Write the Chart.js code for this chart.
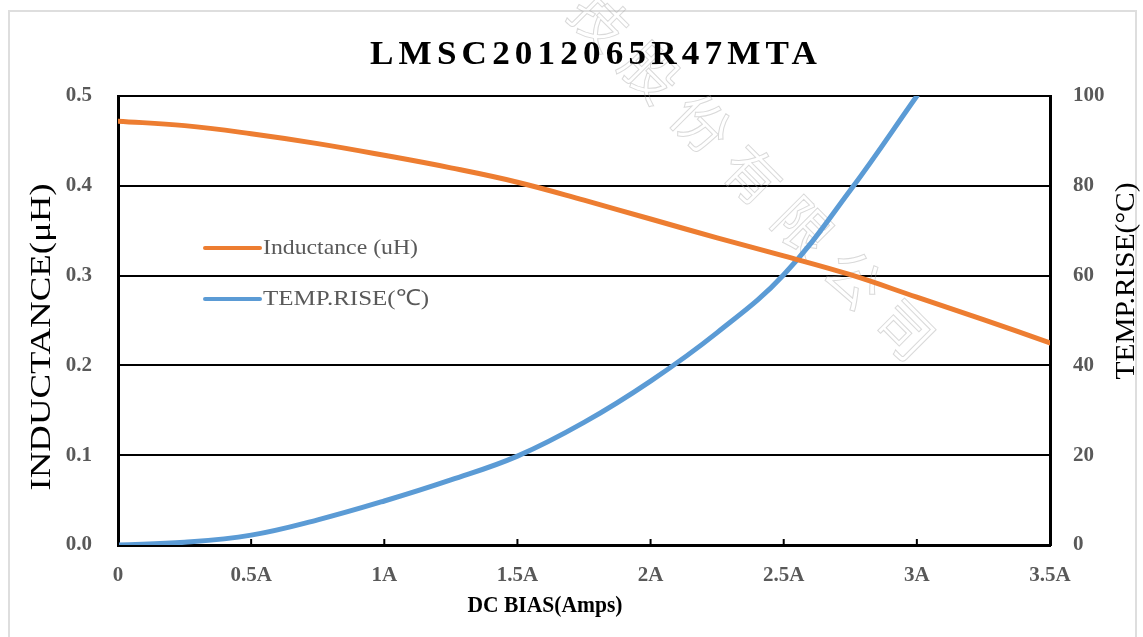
<!DOCTYPE html>
<html>
<head>
<meta charset="utf-8">
<title>LMSC2012065R47MTA</title>
<script src="https://cdn.jsdelivr.net/npm/chart.js@4.4.1/dist/chart.umd.min.js"></script>
<style>
  html, body { margin: 0; padding: 0; background: #fff; }
  #grafico { display: block; }
</style>
</head>
<body>
<canvas id="grafico" width="1143" height="637"></canvas>
<script>
// Datos (corriente DC en A)
const TITULO = 'LMSC2012065R47MTA';
const DC_BIAS = [0, 0.25, 0.5, 0.75, 1, 1.25, 1.5, 1.75, 2, 2.25, 2.5, 2.75, 3, 3.25, 3.5];
const INDUCTANCIA = [0.472, 0.467, 0.458, 0.447, 0.434, 0.420, 0.404, 0.384, 0.363, 0.342, 0.322, 0.301, 0.276, 0.251, 0.225];
const TEMP_RISE = [0, 0.6, 2.2, 5.6, 9.8, 14.5, 19.8, 27.3, 36.5, 47.3, 60.2, 79.0, 100];
const X_TICKS = ['0', '0.5A', '1A', '1.5A', '2A', '2.5A', '3A', '3.5A'];
const SERIES = ['Inductance (uH)', 'TEMP.RISE(\u2103)'];
const MARCA_AGUA = '技股份有限公司';

const NARANJA = '#ED7D31';
const AZUL = '#5B9BD5';
const GRIS = '#595959';
const SERIF = "'Liberation Serif', 'Times New Roman', serif";

function puntos(xs, ys) {
  return ys.map((y, i) => ({ x: xs[i], y }));
}

// Texto ajustado a un ancho dado (el original viene algo estirado)
function textoAjustado(ctx, texto, x, y, ancho, font, angulo, color, espaciado) {
  ctx.save();
  ctx.translate(x, y);
  ctx.rotate(angulo || 0);
  ctx.font = font;
  if (espaciado) ctx.letterSpacing = espaciado;
  const w = ctx.measureText(texto).width;
  ctx.scale(ancho / w, 1);
  ctx.fillStyle = color;
  ctx.textAlign = 'center';
  ctx.textBaseline = 'middle';
  ctx.fillText(texto, 0, 0);
  ctx.restore();
}

const decoracion = {
  id: 'decoracion',
  beforeDraw(chart) {
    const ctx = chart.ctx;
    ctx.save();
    ctx.fillStyle = '#fff';
    ctx.fillRect(0, 0, chart.width, chart.height);
    ctx.strokeStyle = '#dedede';
    ctx.lineWidth = 2;
    ctx.strokeRect(9, 11, 1127, 700);
    ctx.restore();
  },
  beforeDatasetsDraw(chart) {
    // marca de agua en diagonal, muy tenue
    const ctx = chart.ctx;
    ctx.save();
    ctx.font = "56px 'Noto Sans CJK SC'";
    ctx.strokeStyle = 'rgba(160,160,160,0.4)';
    ctx.lineWidth = 1;
    ctx.textAlign = 'center';
    ctx.textBaseline = 'middle';
    const chars = [...MARCA_AGUA];
    const x0 = 600, y0 = 20, x1 = 905, y1 = 330;
    chars.forEach((c, i) => {
      const t = i / (chars.length - 1);
      ctx.save();
      ctx.translate(x0 + (x1 - x0) * t, y0 + (y1 - y0) * t);
      ctx.rotate(Math.PI / 4);
      ctx.strokeText(c, 0, 0);
      ctx.restore();
    });
    ctx.restore();
  },
  afterDraw(chart) {
    const ctx = chart.ctx;
    const area = chart.chartArea;
    const xs = chart.scales.x;

    // marcas cortas hacia adentro sobre el eje X
    ctx.save();
    ctx.strokeStyle = '#000';
    ctx.lineWidth = 2;
    xs.ticks.forEach((t) => {
      const px = xs.getPixelForValue(t.value);
      ctx.beginPath();
      ctx.moveTo(px, area.bottom);
      ctx.lineTo(px, area.bottom - 6);
      ctx.stroke();
    });
    ctx.restore();

    textoAjustado(ctx, TITULO, 596, 55, 452, 'bold 34px ' + SERIF, 0, '#000', '5px');
    textoAjustado(ctx, 'DC BIAS(Amps)', 545, 606, 155, 'bold 24px ' + SERIF, 0, '#000');
    textoAjustado(ctx, 'INDUCTANCE(\u03BCH)', 42, 337, 307, '29px ' + SERIF, -Math.PI / 2, '#000');
    textoAjustado(ctx, 'TEMP.RISE(\u00B0C)', 1127, 281, 197, '27px ' + SERIF, -Math.PI / 2, '#000');

    // leyenda dentro del área del gráfico
    const items = [
      { texto: SERIES[0], color: NARANJA, y: 248, ancho: 155 },
      { texto: SERIES[1], color: AZUL, y: 299, ancho: 166 },
    ];
    items.forEach((it) => {
      ctx.save();
      ctx.strokeStyle = it.color;
      ctx.lineWidth = 4;
      ctx.lineCap = 'round';
      ctx.beginPath();
      ctx.moveTo(205, it.y);
      ctx.lineTo(260, it.y);
      ctx.stroke();
      ctx.restore();
      textoAjustado(ctx, it.texto, 263 + it.ancho / 2, it.y, it.ancho, '22px ' + SERIF, 0, GRIS);
    });
  },
};

const fuenteTicks = { family: SERIF, size: 21, weight: 'bold' };

new Chart(document.getElementById('grafico'), {
  type: 'line',
  data: {
    datasets: [
      { label: SERIES[0], data: puntos(DC_BIAS, INDUCTANCIA), yAxisID: 'y', borderColor: NARANJA, backgroundColor: NARANJA, borderWidth: 5, pointRadius: 0, tension: 0.4, borderCapStyle: 'round' },
      { label: SERIES[1], data: puntos(DC_BIAS, TEMP_RISE), yAxisID: 'y1', borderColor: AZUL, backgroundColor: AZUL, borderWidth: 5, pointRadius: 0, tension: 0.4, borderCapStyle: 'round' },
    ],
  },
  options: {
    responsive: false,
    animation: false,
    devicePixelRatio: 1,
    layout: { padding: { top: 96, left: 0, right: 0, bottom: 0 } },
    plugins: { legend: { display: false }, title: { display: false }, tooltip: { enabled: false } },
    scales: {
      x: {
        type: 'linear', min: 0, max: 3.5,
        ticks: { stepSize: 0.5, maxRotation: 0, autoSkip: false, padding: 18, color: GRIS, font: fuenteTicks, callback: (v, i) => X_TICKS[i] },
        grid: { drawOnChartArea: false, drawTicks: false },
        border: { display: true, color: '#000', width: 3 },
        afterFit: (s) => { s.height = 92; },
      },
      y: {
        position: 'left', min: 0, max: 0.5,
        ticks: { stepSize: 0.1, padding: 26, color: GRIS, font: fuenteTicks, callback: (v) => v.toFixed(1) },
        grid: { color: '#000', lineWidth: 2, drawTicks: false },
        border: { display: true, color: '#000', width: 3 },
        afterFit: (s) => { s.width = 118; },
      },
      y1: {
        position: 'right', min: 0, max: 100,
        ticks: { stepSize: 20, padding: 23, color: GRIS, font: fuenteTicks },
        grid: { drawOnChartArea: false, drawTicks: false },
        border: { display: true, color: '#000', width: 3 },
        afterFit: (s) => { s.width = 93; },
      },
    },
  },
  plugins: [decoracion],
});
</script>
</body>
</html>
